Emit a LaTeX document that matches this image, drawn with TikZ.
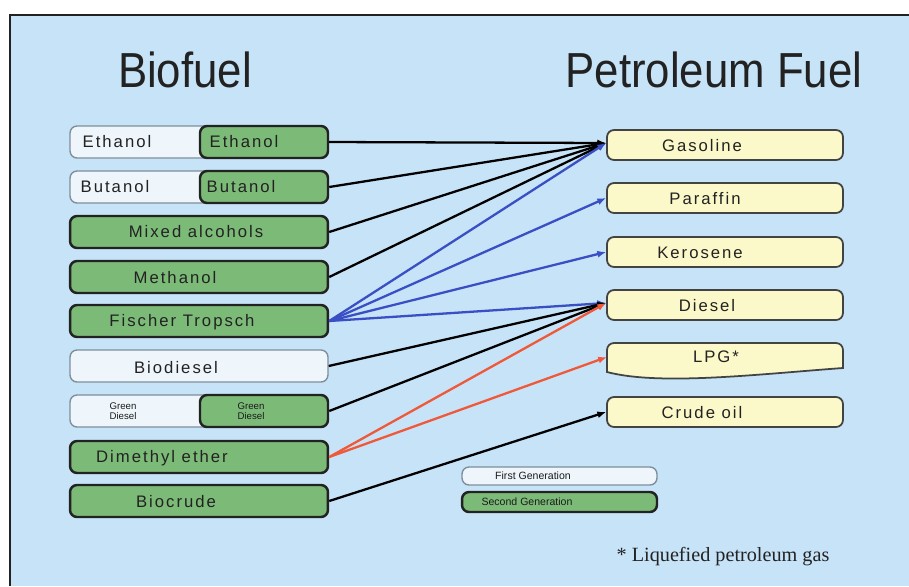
\documentclass[tikz,border=0pt]{standalone}
\usepackage{fontspec}
\setmainfont{Liberation Sans}
\newfontfamily\boxfont[LetterSpace=12]{Liberation Sans}
\newfontfamily\notefont{Liberation Serif}
\usetikzlibrary{arrows.meta}
\definecolor{bgblue}{HTML}{C6E3F7}
\definecolor{gfill}{HTML}{7CBA78}
\definecolor{yfill}{HTML}{FBF8C9}
\definecolor{wfill}{HTML}{EEF6FC}
\definecolor{wborder}{HTML}{7F8F9C}
\definecolor{lblue}{HTML}{3A4FC4}
\definecolor{lred}{HTML}{F0583A}
\definecolor{tdark}{HTML}{222222}
\tikzset{
  firstgen/.style={draw=wborder, line width=0.8pt, fill=wfill, rounded corners=4pt, minimum width=5.16cm, minimum height=0.64cm, inner sep=0pt},
  secondgen/.style={draw=tdark, line width=1.4pt, fill=gfill, rounded corners=4pt, minimum height=0.64cm, inner sep=0pt},
  petro/.style={draw=tdark!85, line width=1pt, fill=yfill, rounded corners=4pt, minimum width=4.72cm, minimum height=0.6cm, inner sep=0pt},
  btxt/.style={font=\boxfont\fontsize{9.5}{11}\selectfont, text=tdark, inner sep=0pt},
  tinytxt/.style={font=\fontsize{5.5}{6}\selectfont, text=tdark!80!black, inner sep=0pt, align=left},
  ttl/.style={font=\fontsize{28}{30}\selectfont, text=tdark, inner sep=0pt},
  conn/.style={line width=1.3pt, -{Latex[length=5pt,width=4pt]}},
}
\begin{document}
\begin{tikzpicture}[x=0.02cm,y=-0.02cm]
\useasboundingbox (0,0) rectangle (909,586);
\fill[white] (0,0) rectangle (909,586);
\fill[bgblue] (11,16) rectangle (909,586);
\draw[tdark, line width=1.6pt] (10,586) -- (10,15) -- (909,15);

% titles
\node[ttl] (t1) at (185,70) {\scalebox{0.89}[1]{Biofuel}};
\node[ttl] (t2) at (714,70) {\scalebox{0.89}[1]{Petroleum Fuel}};

% left column
\node[firstgen] (eth1) at (199,142) {};
\node[secondgen, minimum width=2.56cm] (eth) at (264,142) {};
\node[btxt] (eth1t) at (117,142) {Ethanol};
\node[btxt] (etht) at (244,142) {Ethanol};

\node[firstgen] (but1) at (199,187) {};
\node[secondgen, minimum width=2.56cm] (but) at (264,187) {};
\node[btxt] (but1t) at (115,187) {Butanol};
\node[btxt] (butt) at (241,187) {Butanol};

\node[secondgen, minimum width=5.16cm] (mix) at (199,232) {};
\node[btxt] (mixt) at (196,232) {Mixed alcohols};

\node[secondgen, minimum width=5.16cm] (meth) at (199,277) {};
\node[btxt] (metht) at (175,278) {Methanol};

\node[secondgen, minimum width=5.16cm] (ft) at (199,321) {};
\node[btxt] (ftt) at (182,322) {Fischer Tropsch};

\node[firstgen] (bd) at (199,366) {};
\node[btxt] (bdt) at (176,368) {Biodiesel};

\node[firstgen] (gd1) at (199,411) {};
\node[secondgen, minimum width=2.56cm] (gd) at (264,411) {};
\node[tinytxt] (gd1t) at (123,411) {Green\\Diesel};
\node[tinytxt, align=center] (gdt) at (251,411) {Green\\Diesel};

\node[secondgen, minimum width=5.16cm] (dme) at (199,457) {};
\node[btxt] (dmet) at (162,458) {Dimethyl ether};

\node[secondgen, minimum width=5.16cm] (bc) at (199,501) {};
\node[btxt] (bct) at (176,502) {Biocrude};

% right column
\node[petro] (gas) at (725,145) {};
\node[btxt] (gast) at (702,146) {Gasoline};
\node[petro] (par) at (725,198) {};
\node[btxt] (part) at (705,199) {Paraffin};
\node[petro] (ker) at (725,252) {};
\node[btxt] (kert) at (700,253) {Kerosene};
\node[petro] (die) at (725,305) {};
\node[btxt] (diet) at (707,306) {Diesel};
\filldraw[draw=tdark!85, line width=1pt, fill=yfill]
  (607,372) [rounded corners=4pt] -- (607,343) -- (843,343) [sharp corners] -- (843,368)
  .. controls (760,374) and (660,386) .. (607,372) -- cycle;
\node[btxt] (lpgt) at (716,357) {LPG*};
\node[petro] (cru) at (725,412) {};
\node[btxt] (crut) at (702,413) {Crude oil};

\coordinate (lpg) at (607,357);

% legend
\node[firstgen, minimum width=3.9cm, minimum height=0.36cm] (lg1) at (559.5,476) {};
\node[tinytxt, font=\fontsize{6}{7}\selectfont] (lg1t) at (533,476) {First Generation};
\node[secondgen, minimum width=3.9cm, minimum height=0.4cm] (lg2) at (559.5,502) {};
\node[tinytxt, font=\fontsize{6}{7}\selectfont] (lg2t) at (527,502) {Second Generation};

% footnote
\node[font=\notefont\fontsize{11.5}{13}\selectfont, text=tdark, inner sep=0pt] (fn) at (723,557) {* Liquefied petroleum gas};

% connectors
\coordinate (gasin) at ([yshift=0.04cm]gas.west);
\coordinate (diein) at ([yshift=0.04cm]die.west);
\draw[conn] (eth.east) -- (gasin);
\draw[conn] (but.east) -- (gasin);
\draw[conn] (mix.east) -- (gasin);
\draw[conn] (meth.east) -- (gasin);
\draw[conn, lblue] (ft.east) -- (gasin);
\draw[conn, lblue] (ft.east) -- (par.west);
\draw[conn, lblue] (ft.east) -- (ker.west);
\draw[conn, lblue] (ft.east) -- (diein);
\draw[conn] (bd.east) -- (diein);
\draw[conn] (gd.east) -- (diein);
\draw[conn, lred] (dme.east) -- (diein);
\draw[conn, lred] (dme.east) -- (lpg);
\draw[conn] (bc.east) -- (cru.west);
\end{tikzpicture}
\end{document}
